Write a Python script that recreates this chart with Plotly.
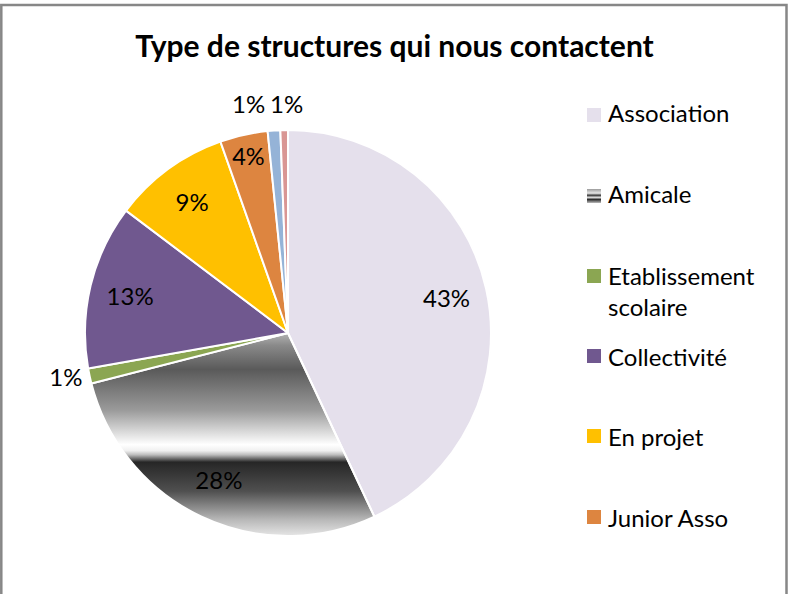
"""Pie chart: type de structures qui nous contactent."""

import base64

import plotly.graph_objects as go

W, H = 789, 594

LABELS = ["Association", "Amicale", "Etablissement scolaire", "Collectivité",
          "En projet", "Junior Asso", "Autre", "Non précisé"]
VALUES = [43.0, 28.0, 1.2, 13.1, 9.3, 3.8, 1.0, 0.6]
COLORS = ["#E5E0EC", "rgba(0,0,0,0)", "#8BA652", "#70588F",
          "#FFC000", "#DD8540", "#95B3D7", "#D99694"]
# labels of the two tiny top slices are set side by side, like the original
TEXTPOS = ["inside", "inside", "outside", "inside",
           "inside", "inside", "none", "none"]

LEGEND_LABELS = ["Association", "Amicale", "Etablissement<br>scolaire",
                 "Collectivité", "En projet", "Junior Asso"]

# metallic gray gradient used by the "Amicale" slice (offsets over the pie box)
GRAD_STOPS = [(0.50, "#b4b4b4"), (0.53, "#8a8a8a"), (0.59, "#5a5a5a"),
              (0.69, "#9a9a9a"), (0.775, "#ffffff"), (0.79, "#f0f0f0"),
              (0.80, "#bdbdbd"), (0.818, "#262626"), (0.89, "#505050"),
              (0.96, "#b8b8b8"), (1.0, "#e6e6e6")]

FONT = "Lato"


def px(x):
    return x / W


def py(y):
    return 1 - y / H


def svg_uri(body):
    return "data:image/svg+xml;base64," + base64.b64encode(body.encode()).decode()


def gradient_svg(stops, circle=True):
    st = "".join(f'<stop offset="{o}" stop-color="{c}"/>' for o, c in stops)
    shape = ('<circle cx="50" cy="50" r="50" fill="url(#g)"/>' if circle
             else '<rect x="0" y="0" width="100" height="100" fill="url(#g)"/>')
    return svg_uri(
        '<svg xmlns="http://www.w3.org/2000/svg" viewBox="0 0 100 100" '
        'preserveAspectRatio="none"><defs><linearGradient id="g" x1="0" y1="0" '
        f'x2="0" y2="1">{st}</linearGradient></defs>{shape}</svg>'
    )


# pie box in pixels
PIE_L, PIE_T, PIE_SIZE = 85, 130, 406
domain = dict(x=[px(PIE_L), px(PIE_L + PIE_SIZE)],
              y=[py(PIE_T + PIE_SIZE), py(PIE_T)])
label_font = dict(family=FONT, size=24, color="black")

fig = go.Figure()
# coloured slices, no text
fig.add_trace(go.Pie(
    labels=LABELS, values=VALUES, sort=False, direction="clockwise", rotation=0,
    marker=dict(colors=COLORS, line=dict(color="white", width=2)),
    textinfo="none", domain=domain, showlegend=False,
))
# transparent ring on top: its text sits out towards the rim, as in Excel
fig.add_trace(go.Pie(
    labels=LABELS, values=VALUES, sort=False, direction="clockwise", rotation=0,
    hole=0.6,
    marker=dict(colors=["rgba(0,0,0,0)"] * len(LABELS), line=dict(width=0)),
    texttemplate="%{percent:.0%}", textposition=TEXTPOS,
    insidetextorientation="horizontal", textfont=label_font,
    domain=domain, showlegend=False, hoverinfo="skip",
))

images = [dict(
    source=gradient_svg(GRAD_STOPS), xref="paper", yref="paper",
    x=px(PIE_L), y=py(PIE_T), sizex=PIE_SIZE / W, sizey=PIE_SIZE / H,
    xanchor="left", yanchor="top", sizing="stretch", layer="below",
)]

shapes = []
annotations = []

total = sum(VALUES)
for v, xc in zip(VALUES[-2:], [248, 286]):
    annotations.append(dict(
        text=f"{round(v / total * 100)}%", xref="paper", yref="paper",
        x=px(xc), y=py(103), xanchor="center", yanchor="middle",
        showarrow=False, font=label_font,
    ))

# hand-made legend (the original only lists the first six categories)
SQ = 14
sq_y = [115, 196, 276, 356, 436, 517]
txt_y = [113, 194, 291, 356, 436, 517]
for i, (lab, ys, yt) in enumerate(zip(LEGEND_LABELS, sq_y, txt_y)):
    if i == 1:
        swatch = [(0.0, "#9a9a9a"), (0.3, "#e8e8e8"), (0.45, "#3a3a3a"),
                  (0.6, "#e0e0e0"), (0.75, "#2e2e2e"), (1.0, "#bdbdbd")]
        images.append(dict(
            source=gradient_svg(swatch, circle=False), xref="paper", yref="paper",
            x=px(587), y=py(ys - SQ / 2), sizex=SQ / W, sizey=SQ / H,
            xanchor="left", yanchor="top", sizing="stretch", layer="above",
        ))
    else:
        shapes.append(dict(
            type="rect", xref="paper", yref="paper",
            x0=px(587), x1=px(587 + SQ), y0=py(ys + SQ / 2), y1=py(ys - SQ / 2),
            fillcolor=COLORS[i], line=dict(width=0),
        ))
    annotations.append(dict(
        text=lab, xref="paper", yref="paper", x=px(606), y=py(yt),
        xanchor="left", yanchor="middle", align="left", showarrow=False,
        font=dict(family=FONT, size=24, color="black"),
    ))

# chart border
shapes.append(dict(
    type="rect", xref="paper", yref="paper",
    x0=px(1.3), x1=px(786.5), y0=py(620), y1=py(5),
    line=dict(color="#878787", width=2.5), fillcolor="rgba(0,0,0,0)",
))

fig.update_layout(
    width=W,
    height=H,
    margin=dict(l=0, r=0, t=0, b=0),
    paper_bgcolor="white",
    plot_bgcolor="white",
    title=dict(
        text="<b>Type de structures qui nous contactent</b>",
        x=0.5, xanchor="center", y=py(46), yanchor="middle",
        font=dict(family=FONT, size=30, color="black"),
    ),
    images=images,
    shapes=shapes,
    annotations=annotations,
)

# page body has a default 8px margin; drop it so the figure sits at 0,0
fig.write_html("out.html", config={"displayModeBar": False},
               post_script="document.body.style.margin='0';")
